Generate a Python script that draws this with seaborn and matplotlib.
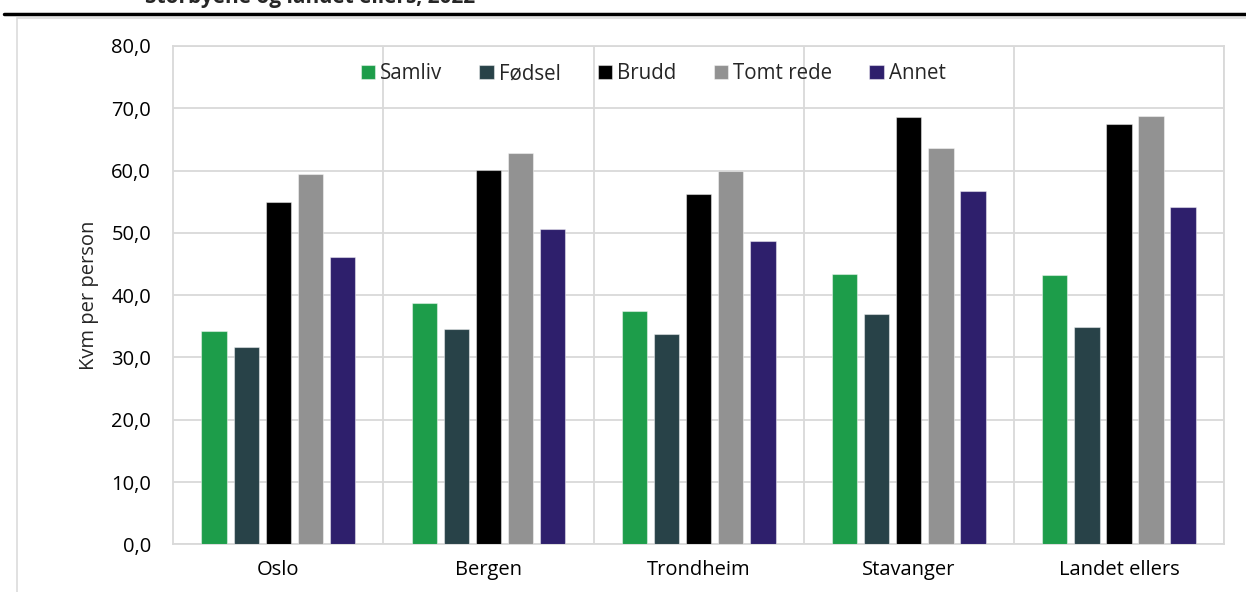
import pandas as pd
import numpy as np
import matplotlib.pyplot as plt
import matplotlib.ticker as mticker
from matplotlib.lines import Line2D
from matplotlib.patches import Rectangle
import seaborn as sns

# Kvm per person etter hendelse, storbyene og landet ellers, 2022
byer = ['Oslo', 'Bergen', 'Trondheim', 'Stavanger', 'Landet ellers']
hendelser = ['Samliv', 'Fødsel', 'Brudd', 'Tomt rede', 'Annet']
farger = ['#1d9d4a', '#284248', '#000000', '#929292', '#2e1f6c']

samliv = [34.2, 38.8, 37.4, 43.4, 43.2]
fodsel = [31.7, 34.5, 33.8, 36.9, 34.9]
brudd = [54.9, 60.1, 56.2, 68.6, 67.4]
tomt_rede = [59.5, 62.8, 59.9, 63.6, 68.8]
annet = [46.2, 50.6, 48.7, 56.7, 54.1]

tittel = 'Storbyene og landet ellers, 2022'
y_label = 'Kvm per person'

verdier = [samliv, fodsel, brudd, tomt_rede, annet]
df = pd.DataFrame({
    'by': np.repeat(byer, len(hendelser)),
    'hendelse': hendelser * len(byer),
    'kvm': [verdier[j][i] for i in range(len(byer)) for j in range(len(hendelser))],
})

sns.set_theme(style='white')
plt.rcParams['font.family'] = ['Open Sans', 'DejaVu Sans']

fig = plt.figure(figsize=(12.46, 5.92), dpi=100)
ax = fig.add_axes([173.3 / 1246, 47.7 / 592, (1224 - 173.3) / 1246, (544.3 - 46) / 592])

sns.barplot(
    data=df, x='by', y='kvm', hue='hendelse',
    order=byer, hue_order=hendelser, palette=farger,
    width=0.764, gap=0.21, saturation=1,
    edgecolor=(1, 1, 1, 0.45), linewidth=0.8,
    errorbar=None, ax=ax, zorder=3,
)

grid_farge = '#d9d9d9'
ax.set_ylim(0, 80)
ax.set_xlim(-0.5, len(byer) - 0.5)
ax.yaxis.set_major_locator(mticker.MultipleLocator(10))
ax.yaxis.set_major_formatter(mticker.FuncFormatter(lambda v, p: f'{v:.1f}'.replace('.', ',')))
ax.set_xticks(np.arange(len(byer)) + 0.5, minor=True)
ax.grid(axis='y', which='major', color=grid_farge, linewidth=1.3, zorder=0)
ax.grid(axis='x', which='minor', color=grid_farge, linewidth=1.3, zorder=0)
ax.grid(axis='x', which='major', visible=False)
for s in ax.spines.values():
    s.set_color(grid_farge)
    s.set_linewidth(1.3)

ax.tick_params(axis='both', which='both', length=0, labelsize=14.5, colors='black')
ax.tick_params(axis='y', pad=16)
ax.tick_params(axis='x', pad=11)
ax.set_xlabel('')
ax.set_ylabel(y_label, fontsize=14.5, labelpad=9)

handles, labels = ax.get_legend_handles_labels()
ax.legend(
    handles, labels, ncol=5, frameon=False, loc='center',
    bbox_to_anchor=(0.4566, 0.944), fontsize=14.8,
    handlelength=0.7, handleheight=0.7, handletextpad=0.25,
    columnspacing=1.8,
)

# ramme, strek og avkuttet tittel
fig.patches.append(Rectangle((17 / 1246, -0.1), 1.2, 1.1 - 18.3 / 592,
                             transform=fig.transFigure, fill=False,
                             edgecolor='#dcdcdc', linewidth=1.2, zorder=0))
fig.lines.append(Line2D([4 / 1246, 1], [1 - 14.3 / 592] * 2,
                        transform=fig.transFigure, color='black', linewidth=2.5))
fig.text(145 / 1246, 1 - 3.5 / 592, tittel, fontsize=15, fontweight='bold',
         va='baseline', ha='left')

fig.savefig('out.png', dpi=100)
